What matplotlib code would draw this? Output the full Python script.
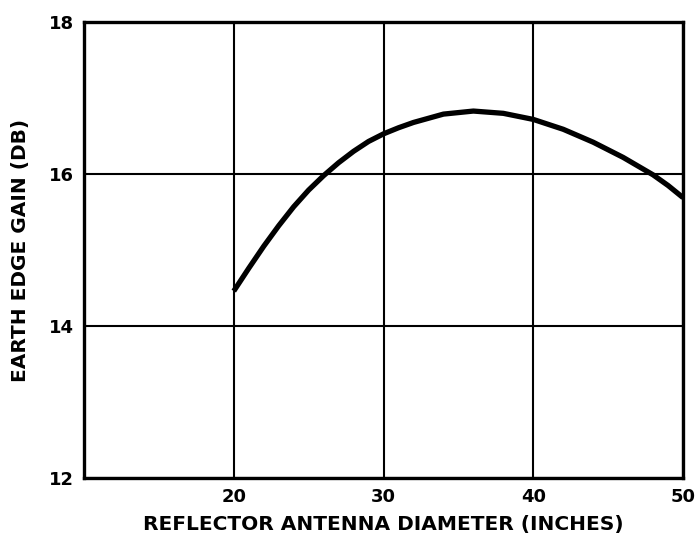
import matplotlib.pyplot as plt

# Earth edge gain vs reflector diameter
diameter = [20, 21, 22, 23, 24, 25, 26, 27, 28, 29, 30, 31, 32,
            34, 36, 38, 40, 42, 44, 46, 48, 49, 50]
gain = [14.46, 14.76, 15.05, 15.32, 15.57, 15.79, 15.98, 16.15, 16.30, 16.43, 16.53, 16.61, 16.68,
        16.79, 16.83, 16.80, 16.72, 16.59, 16.42, 16.22, 15.99, 15.85, 15.69]

x_ticks = [20, 30, 40, 50]
y_ticks = [12, 14, 16, 18]

plt.rcParams['font.family'] = ['DejaVu Sans']
plt.rcParams['font.weight'] = 'bold'

fig = plt.figure(figsize=(6.97, 5.41), dpi=100)
ax = fig.add_axes([0.1205, 0.1165, 0.8595, 0.8425])

ax.plot(diameter, gain, color='black', linewidth=3.8, solid_capstyle='butt',
        solid_joinstyle='round', zorder=3)

ax.set_xlim(10, 50)
ax.set_ylim(12, 18)
ax.set_xticks(x_ticks)
ax.set_yticks(y_ticks)
ax.tick_params(length=0, labelsize=13, pad=7)
for lab in ax.get_xticklabels() + ax.get_yticklabels():
    lab.set_fontweight('bold')

ax.grid(True, color='black', linewidth=1.5)
for s in ax.spines.values():
    s.set_linewidth(2.4)

ax.set_xlabel('REFLECTOR ANTENNA DIAMETER (INCHES)', fontsize=14.5, fontweight='bold', labelpad=7)
ax.set_ylabel('EARTH EDGE GAIN (DB)', fontsize=14.5, fontweight='bold', labelpad=14)

fig.savefig('out.png', dpi=100)
